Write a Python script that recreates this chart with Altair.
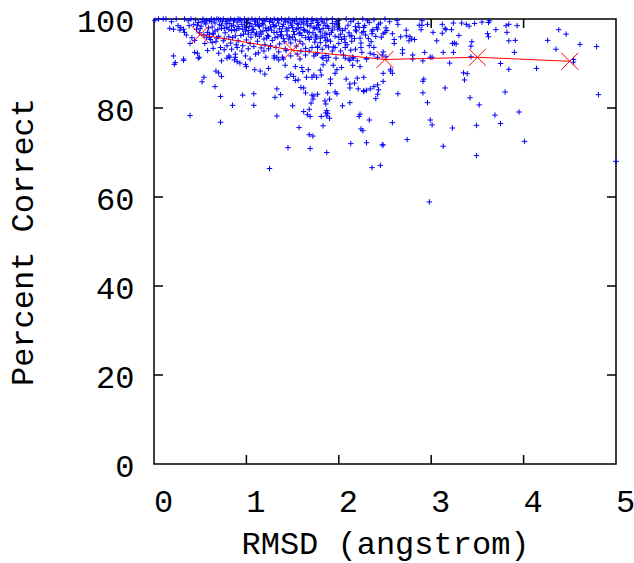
import altair as alt
import pandas as pd

# ---- data ----
avg_x = [0.5, 1.5, 2.5, 3.5, 4.5]
avg_y = [96.5, 93.0, 90.9, 91.4, 90.5]

x_ticks = [1, 2, 3, 4]
y_ticks = [20, 40, 60, 80]
x_labels = [0, 1, 2, 3, 4, 5]
y_labels = [0, 20, 40, 60, 80, 100]

mid_pts = [
    (0.39, 78.3), (0.72, 82.6), (0.72, 76.8), (0.85, 80.6), (0.96, 82.9), (1.08, 83.2), (1.08, 80.6),
    (1.25, 66.4), (1.31, 82.4), (1.33, 78.2), (1.37, 83.0), (1.45, 71.1), (1.50, 80.5), (1.57, 75.6),
    (1.62, 79.2), (1.64, 83.4), (1.66, 78.5), (1.68, 79.7), (1.68, 74.0), (1.69, 70.9), (1.70, 81.1),
    (1.69, 78.1), (1.72, 73.7), (1.71, 82.9), (1.73, 82.7), (1.72, 82.0), (1.77, 83.1), (1.81, 78.1),
    (1.83, 76.0), (1.85, 81.6), (1.86, 80.9), (1.87, 79.4), (1.86, 78.9), (1.88, 78.8), (1.87, 78.2),
    (1.90, 77.7), (1.87, 70.0), (1.90, 82.0), (1.88, 83.4), (1.96, 83.6), (1.98, 83.2), (2.04, 80.5),
    (2.12, 81.2), (2.13, 72.0), (2.22, 78.1), (2.23, 78.6), (2.24, 75.3), (2.26, 74.9), (2.30, 72.2),
    (2.33, 77.3), (2.36, 66.6), (2.45, 67.1), (2.47, 71.7), (2.27, 83.7), (2.30, 84.0), (2.40, 82.1),
    (2.42, 83.1),
]

right_pts = [
    (2.63, 99.7), (2.64, 98.8), (2.51, 98.0), (2.48, 96.7), (2.58, 96.7), (2.60, 95.4), (2.60, 94.5),
    (2.67, 96.0), (2.73, 97.5), (2.73, 96.2), (2.77, 96.0), (2.79, 95.5), (2.82, 95.4), (2.76, 95.1),
    (2.69, 93.1), (2.69, 92.3), (2.80, 91.9), (2.80, 91.0), (2.48, 92.6), (2.47, 91.9), (2.51, 91.5),
    (2.56, 88.7), (2.58, 87.8), (2.48, 86.0), (2.64, 83.2), (2.58, 76.7), (2.48, 71.7), (2.74, 72.9),
    (2.98, 58.9), (2.90, 99.6), (2.90, 98.6), (2.87, 98.6), (2.96, 98.8), (2.89, 97.6), (3.02, 97.0),
    (3.06, 95.1), (3.12, 98.8), (3.12, 96.8), (3.15, 97.9), (3.16, 97.6), (3.22, 97.6), (3.24, 99.1),
    (3.23, 94.5), (3.27, 94.4), (3.25, 94.6), (3.30, 96.3), (3.33, 99.1), (3.38, 98.8), (3.41, 98.4),
    (3.47, 99.0), (3.55, 99.3), (3.62, 99.2), (3.63, 99.6), (2.93, 92.5), (2.91, 90.6), (2.99, 91.4),
    (3.01, 91.4), (3.13, 92.5), (3.24, 92.5), (3.20, 90.1), (3.35, 87.9), (3.39, 87.7), (3.36, 86.3),
    (2.92, 86.5), (2.91, 86.0), (2.91, 83.4), (2.96, 81.2), (3.15, 84.5), (2.99, 77.3), (3.01, 76.2),
    (3.23, 75.5), (3.13, 71.4), (3.44, 94.9), (3.43, 93.9), (3.43, 91.5), (3.42, 82.3), (3.52, 80.7),
    (3.49, 76.1), (3.49, 69.3), (3.61, 96.7), (3.62, 96.0), (3.70, 97.6), (3.81, 98.5), (3.82, 97.0),
    (3.84, 98.8), (3.93, 98.5), (3.84, 95.1), (3.91, 95.2), (3.90, 92.5), (3.75, 90.0), (3.84, 88.7),
    (3.80, 83.6), (3.69, 78.4), (3.75, 76.5), (3.95, 79.1), (4.01, 72.5), (4.14, 88.9), (4.26, 95.2),
    (4.35, 93.2), (4.38, 97.6), (4.46, 96.6), (4.54, 90.9), (4.54, 90.3), (4.61, 94.3), (4.79, 93.8),
    (4.81, 83.0), (5.00, 68.0),
]

band_pts = [
    (0.22, 89.8), (0.32, 90.7), (0.48, 91.2), (0.54, 86.9), (0.52, 85.9), (0.67, 88.3), (0.70, 87.9),
    (0.73, 87.1), (0.66, 84.8), (0.79, 91.2), (0.87, 90.8), (0.90, 90.4), (0.93, 90.1), (0.99, 89.8),
    (1.00, 89.3), (1.09, 88.6), (1.15, 88.3), (1.20, 87.6), (1.24, 88.9), (1.30, 91.2), (1.35, 90.8),
    (1.40, 91.0), (1.42, 89.6), (1.33, 84.3), (1.44, 86.9), (1.48, 87.6), (1.51, 87.1), (1.53, 86.2),
    (1.56, 86.3), (1.53, 89.3), (1.60, 89.1), (1.61, 88.2), (1.67, 88.6), (1.59, 84.6), (1.62, 84.5),
    (1.65, 86.9), (1.71, 86.9), (1.73, 87.4), (1.76, 86.9), (1.81, 87.4), (1.80, 88.5), (1.83, 89.7),
    (1.87, 90.6), (1.83, 91.2), (1.91, 86.5), (1.91, 85.5), (1.96, 87.8), (1.98, 88.6), (1.94, 89.6),
    (2.03, 89.1), (2.07, 91.2), (2.12, 90.7), (2.15, 89.6), (2.08, 86.5), (2.12, 85.4), (2.20, 86.7),
    (2.27, 86.9), (2.12, 84.5), (2.17, 85.6), (2.21, 84.3), (2.27, 83.9), (2.34, 84.3), (2.38, 84.8),
    (2.42, 85.2), (2.43, 84.1), (2.23, 89.3), (2.30, 91.0), (2.16, 91.2), (2.48, 87.8), (2.56, 88.3),
]

left_pts = [
    (0.01, 99.7), (0.10, 100.0), (0.19, 99.4), (0.17, 97.9), (0.21, 97.7), (0.26, 98.5), (0.29, 98.1),
    (0.32, 97.7), (0.28, 97.5), (0.33, 97.0), (0.35, 96.4), (0.39, 94.5), (0.37, 99.6), (0.38, 98.5),
    (0.43, 98.8), (0.46, 97.7), (0.41, 95.8), (0.44, 95.2), (0.21, 91.7), (0.23, 90.2), (0.32, 91.0),
    (0.44, 92.5), (0.47, 92.3), (0.49, 91.4), (0.55, 94.5), (0.63, 94.7), (0.60, 95.8), (0.64, 96.6),
    (0.68, 95.7), (0.72, 93.6), (0.75, 95.1), (0.79, 94.0), (0.84, 93.2), (0.81, 91.7), (0.88, 92.1),
    (0.73, 90.6), (0.82, 91.4),
]

below_line_pts = [
    (0.90, 93.6), (0.88, 91.4), (0.99, 91.7), (1.04, 91.0), (1.10, 92.1), (1.19, 92.8), (1.21, 91.4),
    (1.30, 91.7), (1.33, 91.4), (1.39, 91.4), (1.48, 91.7), (1.55, 92.1), (1.59, 92.8), (1.68, 92.8),
    (1.71, 93.6), (1.73, 91.7), (1.75, 95.5), (1.80, 94.7), (1.77, 93.6), (1.82, 93.2), (1.89, 93.7),
    (1.93, 92.8), (1.96, 93.6), (2.02, 92.8), (2.07, 93.6), (2.13, 93.0), (2.18, 93.2), (2.24, 93.6),
    (2.25, 92.5), (2.33, 94.0), (2.38, 93.6), (1.89, 91.4), (2.11, 91.0), (2.15, 91.4), (2.20, 90.6),
    (2.34, 92.3), (2.42, 91.4), (1.82, 91.4), (1.75, 92.1), (0.58, 92.9), (0.64, 93.4), (0.70, 92.3),
    (0.76, 93.1), (0.95, 92.8), (1.02, 93.3), (1.13, 92.4), (1.24, 93.3), (1.35, 92.6), (1.43, 92.9),
    (1.58, 91.0), (1.64, 91.9), (1.77, 92.3), (1.86, 91.8), (1.97, 91.2), (2.05, 91.9), (2.30, 91.1),
    (2.38, 92.0),
]

upper_pts = [
    (1.77, 99.2), (1.76, 98.1), (1.78, 98.5), (1.86, 98.5), (1.89, 97.9), (1.87, 96.6), (1.85, 95.8),
    (1.86, 95.1), (1.93, 99.0), (1.98, 98.7), (1.99, 97.7), (2.02, 96.6), (2.06, 95.5), (2.00, 94.5),
    (2.07, 94.7), (2.13, 99.4), (2.11, 96.9), (2.14, 96.2), (2.18, 97.5), (2.22, 98.1), (2.25, 96.9),
    (2.27, 98.1), (2.33, 99.2), (2.36, 97.3), (2.42, 97.7), (2.43, 98.8),
    (0.52, 99.5), (0.56, 98.9), (0.60, 99.6), (0.63, 98.2), (0.66, 99.1), (0.69, 97.6), (0.71, 98.7),
    (0.74, 99.4), (0.77, 96.9), (0.79, 98.1), (0.82, 99.0), (0.84, 97.4), (0.86, 98.6), (0.88, 96.2),
    (0.90, 99.3), (0.92, 97.9), (0.95, 98.8), (0.97, 96.6), (0.99, 97.3), (1.01, 99.2), (1.03, 98.3),
    (1.05, 95.9), (1.07, 97.7), (1.09, 99.5), (1.11, 96.8), (1.13, 98.5), (1.15, 97.1), (1.17, 99.0),
    (1.19, 95.5), (1.21, 98.0), (1.23, 96.3), (1.25, 99.4), (1.27, 97.5), (1.29, 98.7), (1.31, 95.8),
    (1.33, 97.0), (1.35, 99.1), (1.37, 96.5), (1.39, 98.3), (1.41, 94.9), (1.43, 97.8), (1.45, 99.3),
    (1.47, 96.0), (1.49, 98.6), (1.51, 97.2), (1.53, 95.3), (1.55, 99.0), (1.57, 96.7), (1.59, 98.1),
    (1.61, 94.4), (1.63, 97.4), (1.65, 99.4), (1.67, 95.9), (1.69, 98.4), (1.72, 96.9), (1.74, 94.8),
    (1.79, 97.6), (1.82, 96.2), (1.84, 99.1), (1.88, 95.3), (1.92, 97.0), (1.95, 98.2), (2.00, 95.9),
    (2.04, 97.4), (2.09, 94.2), (2.17, 95.6), (2.21, 99.0), (2.29, 96.4), (2.35, 94.9), (2.40, 96.1),
]

dense_pts = [
    (0.50, 97.8), (0.54, 96.4), (0.58, 97.0), (0.61, 95.4), (0.64, 96.8), (0.67, 94.9), (0.70, 96.1),
    (0.73, 97.9), (0.76, 95.6), (0.78, 99.5), (0.81, 96.0), (0.83, 94.6), (0.85, 95.8), (0.87, 97.6),
    (0.89, 94.2), (0.91, 95.1), (0.94, 96.3), (0.96, 94.0), (0.98, 98.4), (1.00, 95.3), (1.02, 96.6),
    (1.04, 94.5), (1.06, 97.0), (1.08, 93.8), (1.10, 98.8), (1.12, 95.0), (1.14, 96.1), (1.16, 93.5),
    (1.18, 97.3), (1.20, 94.2), (1.22, 95.7), (1.24, 97.8), (1.26, 94.0), (1.28, 95.2), (1.30, 98.3),
    (1.32, 93.6), (1.34, 96.0), (1.36, 94.4), (1.38, 97.2), (1.40, 95.6), (1.42, 93.3), (1.44, 96.4),
    (1.46, 98.0), (1.48, 94.6), (1.50, 95.9), (1.52, 99.5), (1.54, 93.9), (1.56, 97.9), (1.58, 95.0),
    (1.60, 96.3), (1.62, 98.9), (1.64, 93.4), (1.66, 97.1), (1.68, 95.4), (1.70, 99.0), (1.73, 98.0),
    (1.75, 96.4), (1.77, 93.9), (1.80, 95.7), (1.83, 97.9), (1.86, 94.0), (1.90, 96.5), (1.94, 93.7),
    (1.97, 99.4), (2.01, 97.9), (2.06, 96.0), (2.10, 98.6), (2.14, 95.0), (2.19, 97.3), (2.24, 94.6),
    (2.28, 98.5), (2.32, 95.6), (2.37, 97.6), (2.45, 99.1), (2.50, 97.0), (2.55, 99.4),
    (0.51, 98.4), (0.55, 99.3), (0.59, 98.0), (0.62, 99.4), (0.66, 97.3), (0.70, 99.9), (0.73, 98.5),
    (0.76, 97.9), (0.78, 98.9), (0.81, 97.7), (0.84, 98.4), (0.86, 99.6), (0.89, 97.5), (0.91, 98.3),
    (0.93, 99.9), (0.96, 97.7), (0.98, 99.3), (1.00, 98.1), (1.02, 97.4), (1.04, 99.0), (1.06, 98.4),
    (1.08, 97.6), (1.10, 96.4), (1.12, 99.3), (1.14, 98.3), (1.16, 96.6), (1.18, 98.7), (1.20, 99.5),
    (1.22, 97.4), (1.24, 96.1), (1.26, 98.2), (1.28, 99.3), (1.30, 97.0), (1.32, 98.5), (1.34, 99.8),
    (1.36, 97.8), (1.38, 96.2), (1.40, 98.8), (1.42, 99.5), (1.44, 97.3), (1.46, 95.5), (1.48, 99.1),
    (1.50, 98.1), (1.52, 96.5), (1.54, 97.7), (1.56, 98.8), (1.58, 96.9), (1.60, 99.3), (1.62, 97.6),
    (1.64, 95.8), (1.66, 98.6), (1.68, 97.0), (1.70, 95.9), (1.72, 99.6), (1.74, 97.9), (1.76, 96.0),
    (1.78, 98.8), (1.80, 97.1), (1.82, 99.5), (1.85, 96.8), (1.88, 98.4), (1.91, 95.0), (1.93, 97.5),
    (1.96, 96.1), (1.99, 98.9), (2.03, 95.4), (2.07, 97.8), (2.12, 96.2), (2.18, 98.3), (2.23, 95.7),
    (2.27, 97.2), (2.31, 99.6), (2.36, 96.7), (2.41, 98.1), (2.46, 95.9), (2.52, 97.4), (0.47, 98.6),
    (0.49, 96.9), (0.57, 95.9), (0.60, 96.6),
]

top_row_pts = [
    (0.45, 99.8), (0.48, 99.2), (0.53, 100.0), (0.57, 99.7), (0.62, 100.0), (0.65, 99.8), (0.68, 100.0),
    (0.72, 99.8), (0.75, 100.0), (0.80, 99.7), (0.83, 100.0), (0.87, 99.8), (0.91, 100.0), (0.94, 99.7),
    (0.98, 100.0), (1.02, 99.8), (1.06, 100.0), (1.10, 99.8), (1.14, 100.0), (1.18, 99.7), (1.22, 100.0),
    (1.26, 99.8), (1.30, 100.0), (1.34, 99.7), (1.38, 100.0), (1.42, 99.8), (1.46, 100.0), (1.50, 99.7),
    (1.54, 100.0), (1.58, 99.8), (1.62, 100.0), (1.66, 99.8), (1.71, 100.0), (1.76, 99.7), (1.81, 100.0),
    (1.87, 99.8), (1.93, 100.0), (2.00, 99.7), (2.08, 100.0), (2.16, 99.8), (2.26, 100.0), (2.38, 99.8),
    (2.50, 100.0), (0.05, 100.0), (0.13, 100.0), (0.24, 100.0), (0.33, 100.0), (0.40, 100.0),
]

all_pts = (mid_pts + right_pts + band_pts + left_pts + below_line_pts
           + upper_pts + dense_pts + top_row_pts)

# ---- chart ----
FONT = "Liberation Mono"
W, H = 462, 445
TL = 9  # inner tick length

scatter_df = pd.DataFrame(all_pts, columns=["v", "p"])
avg_df = pd.DataFrame({"v": avg_x, "p": avg_y})
xt_df = pd.DataFrame({"v": x_ticks})
yt_df = pd.DataFrame({"p": y_ticks})

xscale = alt.Scale(domain=[0, 5], nice=False, zero=False)
yscale = alt.Scale(domain=[0, 100], nice=False, zero=False)

PLUS = "M-1,0L1,0M0,-1L0,1"
XMARK = "M-1,-1L1,1M-1,1L1,-1"

x_axis = alt.Axis(
    values=x_labels, format="d", ticks=False, domain=False, grid=False,
    labelFont=FONT, labelFontSize=32, labelColor="black",
    labelBaseline="alphabetic", labelPadding=47.7, labelOffset=9,
    labelAlign="center", labelFlush=False, labelOverlap=False,
    title="RMSD (angstrom)", titleFont=FONT, titleFontSize=32,
    titleFontWeight="normal", titleColor="black", titleBaseline="alphabetic",
    titleAlign="center", titleX=W / 2, titleY=89.5,
)
y_axis = alt.Axis(
    values=y_labels, format="d", ticks=False, domain=False, grid=False,
    labelFont=FONT, labelFontSize=32, labelColor="black",
    labelBaseline="alphabetic", labelPadding=20, labelOffset=12,
    labelAlign="right", labelFlush=False, labelOverlap=False,
    title="Percent Correct", titleFont=FONT, titleFontSize=32,
    titleFontWeight="normal", titleColor="black", titleBaseline="alphabetic",
    titleAlign="center", titleAngle=270, titleX=-121.3, titleY=H / 2,
)

X = alt.X("v:Q", scale=xscale, axis=x_axis)
Y = alt.Y("p:Q", scale=yscale, axis=y_axis)

points = alt.Chart(scatter_df).mark_point(
    shape=PLUS, size=30, filled=False, stroke="#0000ff", strokeWidth=1, opacity=1
).encode(x=X, y=Y)

avg_line = alt.Chart(avg_df).mark_line(color="#ff0000", strokeWidth=1).encode(x=X, y=Y)
avg_marks = alt.Chart(avg_df).mark_point(
    shape=XMARK, size=289, filled=False, stroke="#ff0000", strokeWidth=1, opacity=1
).encode(x=X, y=Y)

tick_style = dict(color="black", strokeWidth=1.5)
bottom_ticks = alt.Chart(xt_df).mark_rule(**tick_style).encode(
    x=X, y=alt.value(H), y2=alt.value(H - TL))
top_ticks = alt.Chart(xt_df).mark_rule(**tick_style).encode(
    x=X, y=alt.value(0), y2=alt.value(TL))
left_ticks = alt.Chart(yt_df).mark_rule(**tick_style).encode(
    y=Y, x=alt.value(0), x2=alt.value(TL))
right_ticks = alt.Chart(yt_df).mark_rule(**tick_style).encode(
    y=Y, x=alt.value(W - TL), x2=alt.value(W))

chart = alt.layer(
    points, bottom_ticks, top_ticks, left_ticks, right_ticks, avg_line, avg_marks
).properties(
    width=W, height=H,
    autosize=alt.AutoSizeParams(type="none"),
    padding={"left": 154, "top": 19, "right": 634 - 154 - W, "bottom": 563 - 19 - H},
    background="white",
).configure_view(stroke="black", strokeWidth=1.5)

chart.save("out.html", embed_options={"renderer": "svg", "actions": False})
